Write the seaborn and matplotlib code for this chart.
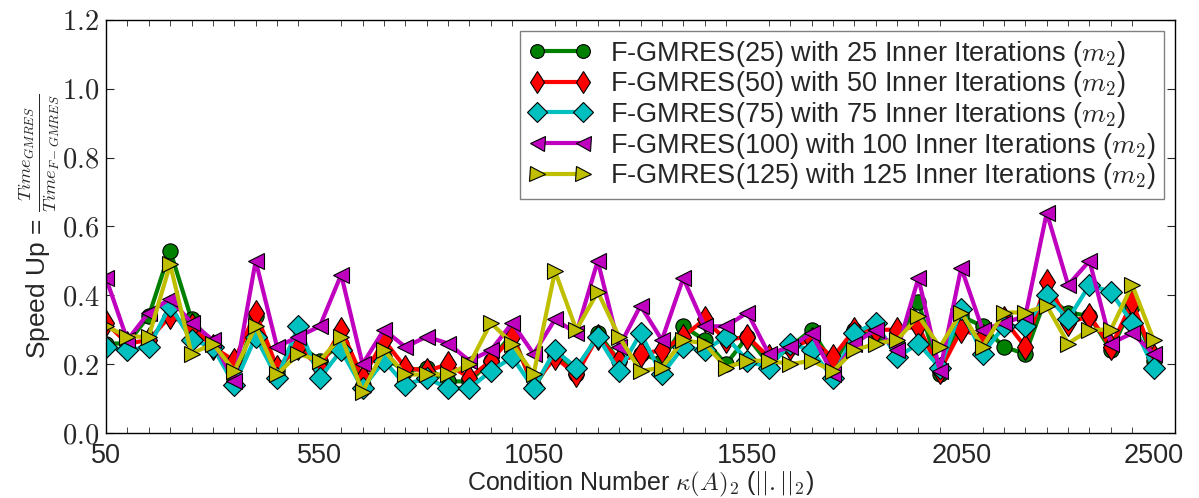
import numpy as np
import pandas as pd
import matplotlib
matplotlib.use("Agg")
import matplotlib.pyplot as plt
from matplotlib.ticker import MultipleLocator
import seaborn as sns

# Data (speed up, one value per condition number)
cond_numbers = list(range(50, 2501, 50))

gmres25 = [0.26, 0.26, 0.34, 0.53, 0.33, 0.26, 0.15, 0.34, 0.18, 0.26,
           0.21, 0.26, 0.14, 0.22, 0.18, 0.19, 0.15, 0.15, 0.21, 0.29,
           0.13, 0.23, 0.17, 0.29, 0.21, 0.23, 0.21, 0.31, 0.27, 0.20,
           0.28, 0.20, 0.25, 0.30, 0.20, 0.30, 0.28, 0.26, 0.38, 0.17,
           0.34, 0.31, 0.25, 0.23, 0.40, 0.35, 0.34, 0.24, 0.37, 0.21]
gmres50 = [0.32, 0.26, 0.27, 0.34, 0.31, 0.25, 0.21, 0.35, 0.19, 0.25,
           0.19, 0.30, 0.16, 0.27, 0.19, 0.18, 0.20, 0.16, 0.21, 0.28,
           0.14, 0.22, 0.17, 0.28, 0.21, 0.23, 0.24, 0.28, 0.33, 0.27,
           0.28, 0.22, 0.25, 0.27, 0.22, 0.30, 0.30, 0.30, 0.31, 0.18,
           0.30, 0.28, 0.33, 0.25, 0.44, 0.32, 0.34, 0.25, 0.38, 0.22]
gmres75 = [0.25, 0.24, 0.25, 0.37, 0.27, 0.25, 0.14, 0.28, 0.16, 0.31,
           0.16, 0.24, 0.13, 0.21, 0.14, 0.16, 0.13, 0.13, 0.18, 0.22,
           0.13, 0.24, 0.19, 0.28, 0.18, 0.29, 0.17, 0.25, 0.24, 0.28,
           0.21, 0.19, 0.26, 0.24, 0.16, 0.29, 0.32, 0.22, 0.26, 0.19,
           0.36, 0.23, 0.31, 0.31, 0.40, 0.33, 0.43, 0.41, 0.32, 0.19]
gmres100 = [0.45, 0.27, 0.35, 0.39, 0.32, 0.27, 0.15, 0.50, 0.25, 0.28,
            0.31, 0.46, 0.20, 0.30, 0.25, 0.28, 0.26, 0.21, 0.24, 0.32,
            0.23, 0.33, 0.29, 0.50, 0.25, 0.37, 0.27, 0.45, 0.31, 0.31,
            0.35, 0.23, 0.25, 0.29, 0.17, 0.26, 0.30, 0.24, 0.45, 0.18,
            0.48, 0.30, 0.32, 0.34, 0.64, 0.43, 0.50, 0.26, 0.29, 0.23]
gmres125 = [0.31, 0.28, 0.28, 0.49, 0.23, 0.26, 0.18, 0.31, 0.17, 0.23,
            0.21, 0.28, 0.12, 0.24, 0.17, 0.17, 0.17, 0.20, 0.32, 0.26,
            0.17, 0.47, 0.30, 0.41, 0.28, 0.18, 0.19, 0.27, 0.26, 0.19,
            0.21, 0.21, 0.20, 0.21, 0.18, 0.24, 0.26, 0.27, 0.34, 0.25,
            0.35, 0.25, 0.35, 0.35, 0.37, 0.26, 0.30, 0.30, 0.43, 0.27]

labels = [r"F-GMRES(25) with 25 Inner Iterations ($m_2$)",
          r"F-GMRES(50) with 50 Inner Iterations ($m_2$)",
          r"F-GMRES(75) with 75 Inner Iterations ($m_2$)",
          r"F-GMRES(100) with 100 Inner Iterations ($m_2$)",
          r"F-GMRES(125) with 125 Inner Iterations ($m_2$)"]
xtick_labels = ["50", "550", "1050", "1550", "2050", "2500"]
ytick_values = [0.0, 0.2, 0.4, 0.6, 0.8, 1.0, 1.2]

# Style
sns.set_style("ticks", {"xtick.direction": "in", "ytick.direction": "in",
                        "xtick.top": True, "ytick.right": True})
plt.rcParams['font.family'] = ['Liberation Sans', 'DejaVu Sans']
plt.rcParams['mathtext.fontset'] = 'cm'

series = [gmres25, gmres50, gmres75, gmres100, gmres125]
colors = ['g', 'r', 'c', 'm', 'y']
markers = ['o', 'd', 'D', '<', '>']
msizes = [11, 13, 11, 12, 12]

pos = np.arange(len(cond_numbers))

fig, ax = plt.subplots(figsize=(11.99, 4.98), dpi=100)
fig.subplots_adjust(left=0.0884, right=0.98, top=0.96, bottom=0.1305)

for vals, col, mk, ms, lab in zip(series, colors, markers, msizes, labels):
    df = pd.DataFrame({'pos': pos, 'speedup': vals})
    sns.lineplot(data=df, x='pos', y='speedup', color=col, marker=mk,
                 markersize=ms, markeredgecolor='k', markeredgewidth=0.8,
                 linewidth=3, label=lab, ax=ax)

ax.set_xlim(0, 50)
ax.set_ylim(0, 1.2)
ax.xaxis.set_minor_locator(MultipleLocator(1))
ax.set_xticks([0, 10, 20, 30, 40, 49])
ax.set_xticklabels(xtick_labels, fontsize=19.5)
ax.tick_params(axis='x', which='major', length=0, pad=7)
ax.tick_params(axis='x', which='minor', length=4, top=True, bottom=True)
ax.set_yticks(ytick_values)
ax.set_yticklabels([f"${v:.1f}$" for v in ytick_values], fontsize=20.5)
ax.tick_params(axis='y', which='major', length=6, pad=5)
for sp in ax.spines.values():
    sp.set_color('black')
    sp.set_linewidth(1)

ax.set_xlabel(r"Condition Number $\kappa(A)_2$ ($||.||_2$)", fontsize=18, labelpad=1)
ax.set_ylabel(r"Speed Up = $\frac{Time_{GMRES}}{Time_{F-GMRES}}$", fontsize=19, labelpad=0)

leg = ax.legend(loc='upper right', numpoints=2, fontsize=19.5, fancybox=False,
                handlelength=2.3, handletextpad=0.7, labelspacing=0.02,
                borderpad=0.3, borderaxespad=0.4, markerscale=0.9,
                framealpha=1, edgecolor='0.5')
leg.get_frame().set_linewidth(1)

fig.savefig("out.png", dpi=100)
